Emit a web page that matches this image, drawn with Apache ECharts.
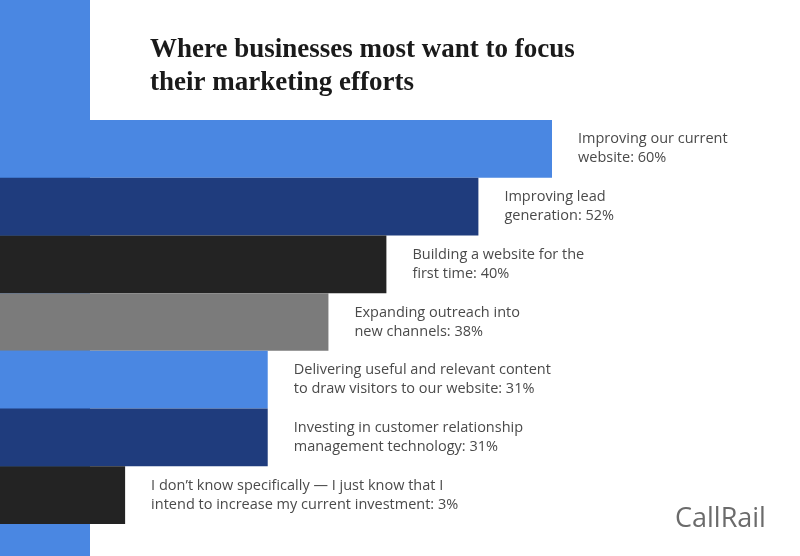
<!DOCTYPE html>
<html><head><meta charset="utf-8">
<script src="https://cdn.jsdelivr.net/npm/echarts@6/dist/echarts.min.js"></script>
<style>html,body{margin:0;padding:0;background:#fff}#c{width:800px;height:556px}</style>
</head><body><div id="c"></div>
<script>
const categories = [
  "Improving our current\nwebsite: 60%",
  "Improving lead\ngeneration: 52%",
  "Building a website for the\nfirst time: 40%",
  "Expanding outreach into\nnew channels: 38%",
  "Delivering useful and relevant content\nto draw visitors to our website: 31%",
  "Investing in customer relationship\nmanagement technology: 31%",
  "I don’t know specifically — I just know that I\nintend to increase my current investment: 3%"
];
const percents = [60, 52, 40, 38, 31, 31, 3];
// drawn bar lengths (axis units)
const barLengths = [60, 52, 42, 35.7, 29.1, 29.1, 13.6];
const colors = ["#4a87e2", "#1f3c7d", "#232323", "#7b7b7b", "#4a87e2", "#1f3c7d", "#232323"];

const chart = echarts.init(document.getElementById('c'));
chart.setOption({
  animation: false,
  graphic: [
    {type:'rect', z:0, shape:{x:0,y:0,width:90,height:556}, style:{fill:'#4a87e2'}},
    {type:'text', left:150, top:34, style:{text:'Where businesses most want to focus\ntheir marketing efforts', font:'bold 27px "Liberation Serif"', lineHeight:33, fill:'#1a1a1a'}},
    {type:'text', left:675, top:506, style:{text:'CallRail', font:'500 27px "Open Sans"', fill:'#6b6b6b'}}
  ],
  grid: {left:0, right:0, top:120, height:404},
  xAxis: {type:'value', min:0, max:800/9.2, show:false},
  yAxis: {type:'category', data:categories, inverse:true, show:false},
  series: [{
    type:'bar', barCategoryGap:'0%', z:5,
    data: barLengths.map((v,i)=>({value:v, itemStyle:{color:colors[i]}})),
    label: {show:true, position:'right', distance:26, color:'#4a4a4a',
      fontFamily:'Open Sans', fontSize:14.5, lineHeight:19,
      formatter: p => categories[p.dataIndex]}
  }]
});
</script></body></html>
